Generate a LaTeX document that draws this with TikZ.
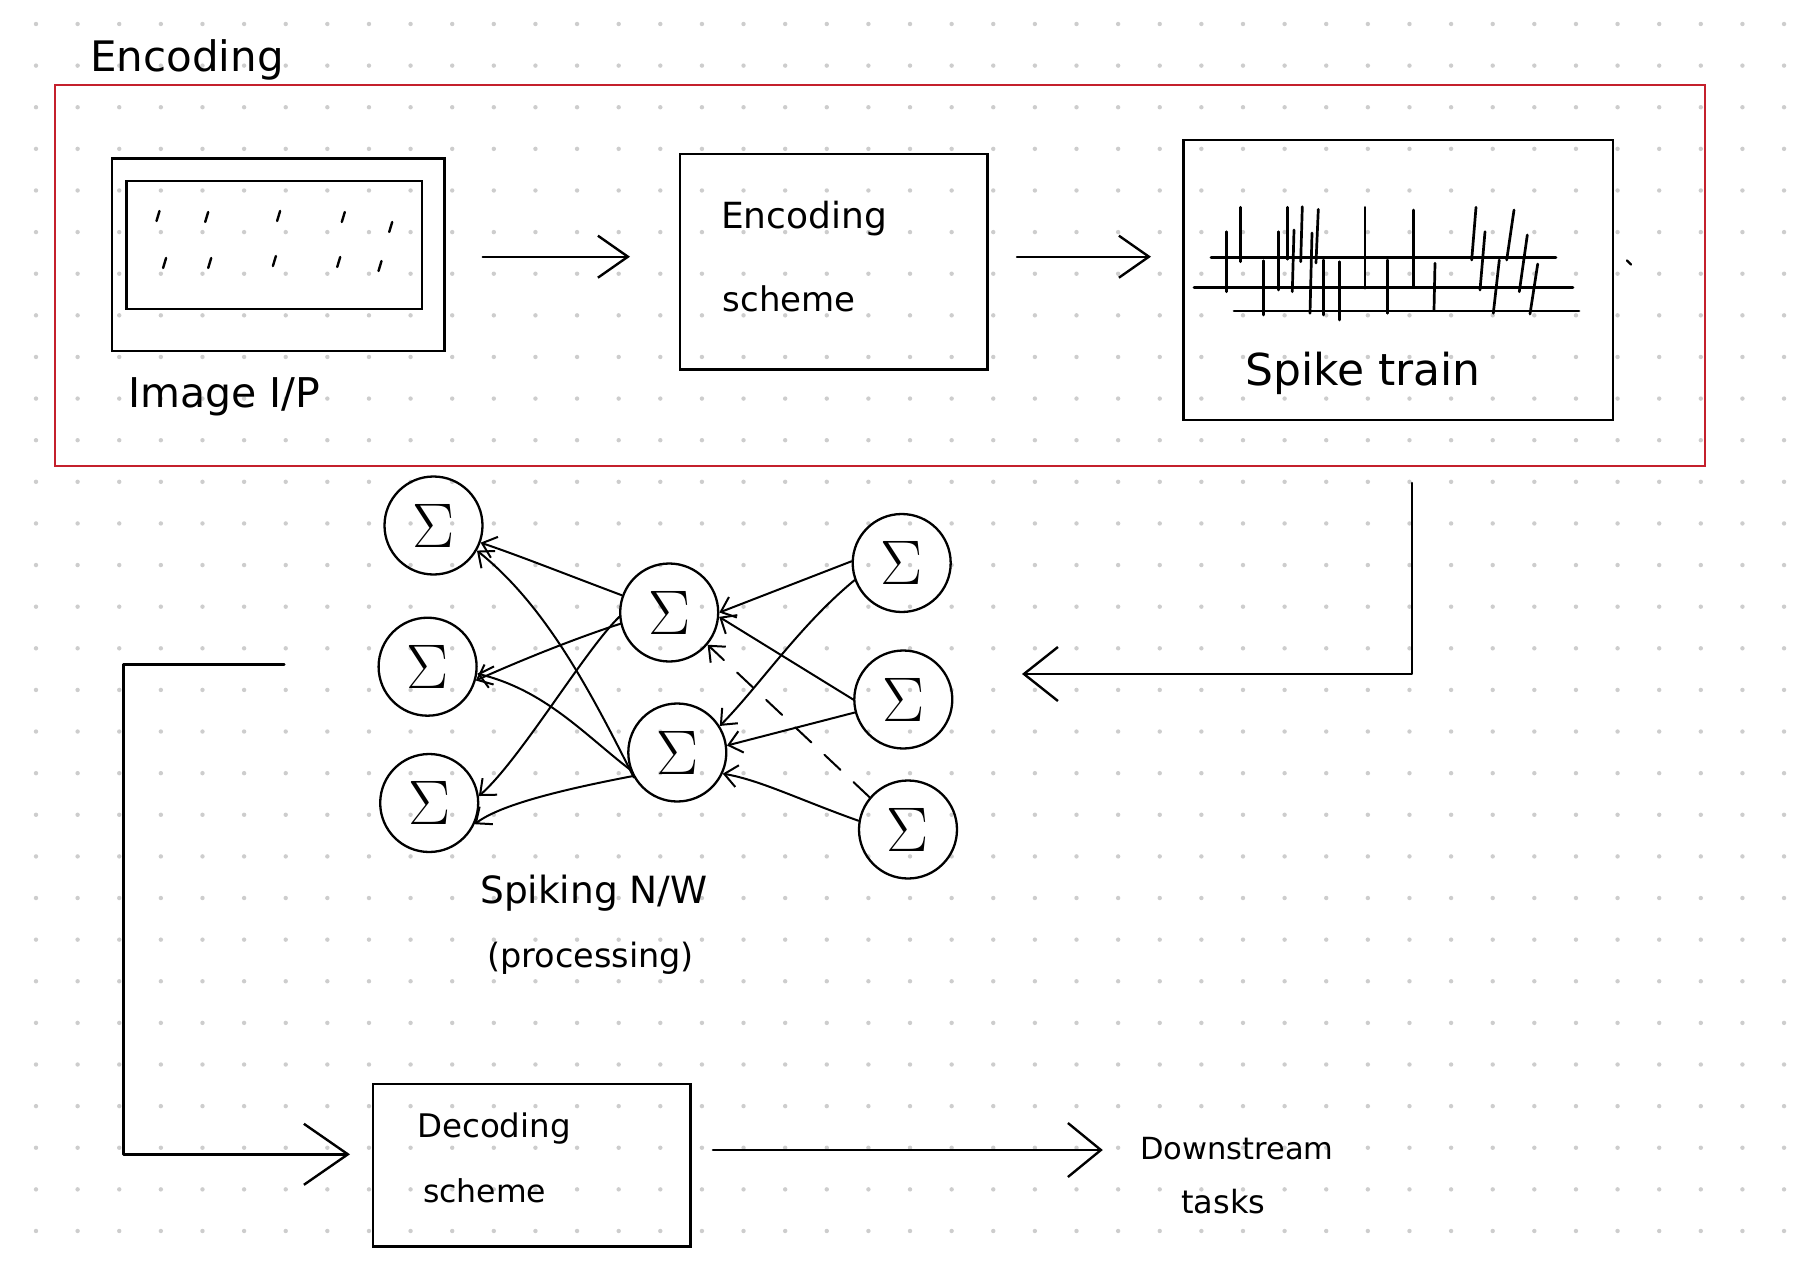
\RequirePackage{fix-cm}
\documentclass[tikz,border=0pt]{standalone}
\usepackage[no-math]{fontspec}
\setmainfont{DejaVu Sans}
\usetikzlibrary{arrows.meta}
\definecolor{framered}{RGB}{196,32,44}
\definecolor{dotgray}{RGB}{205,205,205}
\tikzset{
  ln/.style={line width=2.4pt, line cap=round, line join=round},
  spike/.style={line width=2.7pt, line cap=round},
  box/.style={draw, line width=2.4pt, inner sep=0pt},
  neuron/.style={draw, circle, line width=2.3pt, minimum size=98pt, inner sep=0pt, font=\fontsize{63}{63}\selectfont},
  lbl/.style={anchor=base west, inner sep=0pt},
  bigarrow/.style={ln, -{Straight Barb[length=30pt,width=42pt]}},
  flowarrow/.style={ln, -{Straight Barb[length=34pt,width=54pt]}},
  netarrow/.style={line width=2pt, line cap=round, -{Straight Barb[length=13pt,width=22pt]}},
  dasharrow/.style={netarrow, dash pattern=on 22pt off 18pt},
}
\begin{document}
\begin{tikzpicture}[x=1pt,y=-1pt]
\useasboundingbox (0,0) rectangle (1805,1271);
\fill[white] (0,0) rectangle (1805,1271);
% dot grid
\foreach \i in {0,...,42}{\foreach \j in {0,...,29}{
  \fill[dotgray] ({36+41.62*\i},{24+41.62*\j}) circle[radius=2.2pt];}}

% ---------- encoding frame ----------
\node[box, draw=framered, line width=2.8pt, minimum width=1650pt, minimum height=381pt] (frame) at (879.9,275.5) {};
\node[lbl, font=\fontsize{42}{42}\selectfont] (enclbl) at (90,72) {Encoding};

% image input
\node[box, minimum width=332.6pt, minimum height=192.7pt] (imgout) at (278,254.7) {};
\node[box, minimum width=295.4pt, minimum height=128pt] (imgin) at (274,245) {};
\foreach \x/\y in {158/216,206.7/217,278.6/216,343.3/217,390.7/227,164.6/263,209.7/263,274.4/261,338.7/262,380/266}
  \draw[ln] ({\x+1.5},{\y-5}) -- ({\x-1.5},{\y+5});
\node[lbl, font=\fontsize{41}{41}\selectfont] (imglbl) at (128,407) {Image I/P};

% encoding scheme
\node[box, minimum width=307.7pt, minimum height=215.3pt] (enc) at (833.8,261.7) {};
\node[lbl, font=\fontsize{36}{36}\selectfont] (enct1) at (721,228) {Encoding};
\node[lbl, font=\fontsize{34}{34}\selectfont] (enct2) at (722.6,311.7) {scheme};

% spike train
\node[box, minimum width=429.4pt, minimum height=280pt] (spk) at (1398,280) {};
\draw[spike] (1211,257.3) -- (1556,257.3);
\draw[spike] (1194,287.3) -- (1573,287.3);
\draw[spike] (1234,311) -- (1579,311);
\foreach \xa/\ya/\xb/\yb in {
  1226.7/231.7/1226.7/291.7, 1240.7/207.3/1240.7/261.7, 1263.3/260.7/1263.3/315,
  1278.3/231.7/1278.3/290, 1287.3/207.3/1287.3/259.3, 1294/230/1292.3/291.7,
  1302.3/206.7/1300.7/261.7, 1318.3/209.3/1316/263, 1312/233/1310/313.3,
  1323.3/260/1323.3/315, 1339.3/261.7/1339.3/320, 1365/207.3/1365/288.3,
  1387.7/260/1387.7/313.3, 1413.3/210/1413.3/286.7, 1435/263.3/1434/310,
  1476/207.3/1471.7/260, 1485/231.7/1480/290, 1514/210/1506.7/260,
  1499.3/260/1493.3/313.3, 1527.3/235/1519.3/291.7, 1537.7/264/1530/314}
  \draw[spike] (\xa,\ya) -- (\xb,\yb);
\draw[ln] (1627,260.5) -- (1631,264.5);
\node[lbl, font=\fontsize{44}{44}\selectfont] (spklbl) at (1245,385) {Spike train};

% top-row arrows
\coordinate (a1s) at (482.7,256.7);
\coordinate (a1e) at (630,256.7);
\coordinate (a2s) at (1017,256.7);
\coordinate (a2e) at (1151,256.7);
\draw[bigarrow] (a1s) -- (a1e);
\draw[bigarrow] (a2s) -- (a2e);

% ---------- spiking network ----------
\node[neuron] (L1) at (433.5,525.5) {$\Sigma$};
\node[neuron] (L2) at (427.6,666.7) {$\Sigma$};
\node[neuron] (L3) at (429.2,803) {$\Sigma$};
\node[neuron] (M1) at (669.2,612.5) {$\Sigma$};
\node[neuron] (M2) at (677.3,752.5) {$\Sigma$};
\node[neuron] (R1) at (901.7,563) {$\Sigma$};
\node[neuron] (R2) at (903.3,699.5) {$\Sigma$};
\node[neuron] (R3) at (908,829.5) {$\Sigma$};

\draw[netarrow] (M1.160) .. controls (560,572) and (520,556) .. (L1.340);
\draw[netarrow] (M2.210) .. controls (590,690) and (545,605) .. (L1.330);
\draw[netarrow] (M1.193) .. controls (570,640) and (510,665) .. (L2.-16);
\draw[netarrow] (M2.200) .. controls (585,735) and (545,690) .. (L2.-8);
\draw[netarrow] (M1.185) .. controls (585,650) and (520,760) .. (L3.8);
\draw[netarrow] (M2.208) .. controls (560,790) and (500,805) .. (L3.-25);
\draw[netarrow] (R1.178) -- (M1.0);
\draw[netarrow] (R1.200) .. controls (800,625) and (760,685) .. (M2.32);
\draw[netarrow] (R2.180) -- (M1.-5);
\draw[netarrow] (R2.195) -- (M2.8);
\draw[netarrow] (R3.170) .. controls (800,800) and (760,780) .. (M2.-25);
\draw[dasharrow] (R3.140) -- (M1.-40);

\node[lbl, font=\fontsize{37.5}{37.5}\selectfont] (netl1) at (480,903) {Spiking N/W};
\node[lbl, font=\fontsize{33.5}{33.5}\selectfont] (netl2) at (487,967) {(processing)};

% spike train -> network
\coordinate (c1) at (1411.7,483);
\coordinate (c2) at (1411.7,674);
\coordinate (c3) at (1022,674);
\draw[flowarrow] (c1) -- (c2) -- (c3);

% ---------- decoding ----------
\node[box, minimum width=317.2pt, minimum height=162.7pt] (dec) at (531.8,1165.3) {};
\node[lbl, font=\fontsize{32.5}{32.5}\selectfont] (dect1) at (417,1137) {Decoding};
\node[lbl, font=\fontsize{31.5}{31.5}\selectfont] (dect2) at (423,1202) {scheme};

\coordinate (d1) at (284.3,664.3);
\coordinate (d2) at (123.3,664.3);
\coordinate (d3) at (123.3,1154.3);
\coordinate (d4) at (350,1154.3);
\draw[ln, -{Straight Barb[length=44pt,width=61pt]}] (d1) -- (d2) -- (d3) -- (d4);

\coordinate (e1) at (712.9,1150);
\coordinate (e2) at (1102.8,1150);
\draw[ln, -{Straight Barb[length=33pt,width=54pt]}] (e1) -- (e2);

\node[lbl, font=\fontsize{30.5}{30.5}\selectfont] (dsl1) at (1140,1159) {Downstream};
\node[lbl, font=\fontsize{32}{32}\selectfont] (dsl2) at (1181,1213) {tasks};
\end{tikzpicture}
\end{document}
